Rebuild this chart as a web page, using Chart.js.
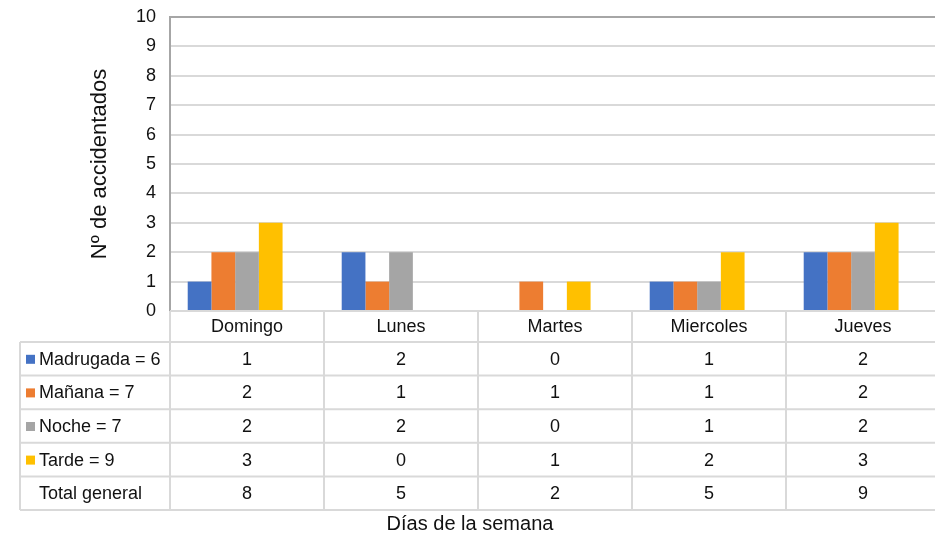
<!DOCTYPE html>
<html>
<head>
<meta charset="utf-8">
<script src="https://cdn.jsdelivr.net/npm/chart.js@4/dist/chart.umd.min.js"></script>
<style>
  html, body { margin: 0; padding: 0; background: #fff; overflow: hidden; }
  canvas { display: block; }
</style>
</head>
<body>
<canvas id="accidentes" width="940" height="533"></canvas>
<script>
// accident counts per day and time slot
var dias = ['Domingo', 'Lunes', 'Martes', 'Miercoles', 'Jueves'];
var madrugada = [1, 2, 0, 1, 2];
var manana = [2, 1, 1, 1, 2];
var noche = [2, 2, 0, 1, 2];
var tarde = [3, 0, 1, 2, 3];
var yTicks = [0, 1, 2, 3, 4, 5, 6, 7, 8, 9, 10];

var series = [
    { name: 'Madrugada', data: madrugada, color: '#4472C4' },
    { name: 'Mañana', data: manana, color: '#ED7D31' },
    { name: 'Noche', data: noche, color: '#A5A5A5' },
    { name: 'Tarde', data: tarde, color: '#FFC000' }
];

var FONT = "'Liberation Sans', Arial, sans-serif";
var GRID = '#d9d9d9';

function sum(arr) {
    return arr.reduce(function (a, b) { return a + b; }, 0);
}

var totals = dias.map(function (d, i) {
    return sum(series.map(function (s) { return s.data[i]; }));
});

var datasets = series.map(function (s) {
    return {
        label: s.name + ' = ' + sum(s.data),
        data: s.data,
        backgroundColor: s.color,
        borderWidth: 0
    };
});
// empty slot kept for the total series, which is only shown in the table
datasets.push({ label: 'Total general', data: dias.map(function () { return null; }), backgroundColor: 'rgba(0,0,0,0)' });

// data table drawn under the plot, aligned with the category columns
var tablePlugin = {
    id: 'dataTable',
    afterDraw: function (chart) {
        var ctx = chart.ctx;
        var xs = chart.scales.x;
        var area = chart.chartArea;
        var colW = (area.right - area.left) / dias.length;
        var top = area.bottom;
        var headerH = 31;
        var rowH = 33.6;
        var leftX = 20;
        var rows = datasets.length;
        var bottom = top + headerH + rows * rowH;

        ctx.save();
        ctx.strokeStyle = GRID;
        ctx.lineWidth = 2;
        ctx.beginPath();
        ctx.moveTo(area.left, top);
        ctx.lineTo(chart.width, top);
        for (var r = 0; r <= rows; r++) {
            var yy = top + headerH + r * rowH;
            ctx.moveTo(leftX, yy);
            ctx.lineTo(chart.width, yy);
        }
        for (var c = 0; c <= dias.length; c++) {
            var xx = area.left + c * colW;
            ctx.moveTo(xx, top);
            ctx.lineTo(xx, bottom);
        }
        ctx.moveTo(leftX, top + headerH);
        ctx.lineTo(leftX, bottom);
        ctx.stroke();

        ctx.fillStyle = '#111';
        ctx.font = '18px ' + FONT;
        ctx.textBaseline = 'middle';
        ctx.textAlign = 'center';
        dias.forEach(function (d, i) {
            ctx.fillText(d, xs.getPixelForValue(i), top + headerH / 2 + 1);
        });

        datasets.forEach(function (ds, r) {
            var cy = top + headerH + r * rowH + rowH / 2 + 1;
            var vals = r < series.length ? series[r].data : totals;
            if (r < series.length) {
                ctx.fillStyle = series[r].color;
                ctx.fillRect(26, cy - 5, 9, 9);
            }
            ctx.fillStyle = '#111';
            ctx.textAlign = 'left';
            ctx.fillText(ds.label, 39, cy);
            ctx.textAlign = 'center';
            vals.forEach(function (v, i) {
                ctx.fillText(String(v), xs.getPixelForValue(i), cy);
            });
        });

        ctx.font = '20px ' + FONT;
        ctx.fillText('Días de la semana', 470, bottom + 14);
        ctx.restore();
    }
};

new Chart(document.getElementById('accidentes').getContext('2d'), {
    type: 'bar',
    data: { labels: dias, datasets: datasets },
    options: {
        responsive: false,
        animation: false,
        categoryPercentage: 0.77,
        barPercentage: 1,
        layout: { padding: { left: 80, top: 17, right: 0, bottom: 222 } },
        plugins: {
            legend: { display: false },
            tooltip: { enabled: false }
        },
        scales: {
            x: { display: false },
            y: {
                min: 0,
                max: 10,
                afterBuildTicks: function (scale) {
                    scale.ticks = yTicks.map(function (v) { return { value: v }; });
                },
                afterFit: function (scale) {
                    scale.width = 90;
                    scale.paddingTop = 0;
                    scale.paddingBottom = 0;
                },
                ticks: {
                    padding: 14,
                    color: '#111',
                    font: { family: FONT, size: 18 }
                },
                grid: {
                    drawTicks: false,
                    lineWidth: 2,
                    color: function (c) { return c.tick && c.tick.value === 10 ? '#a6a6a6' : GRID; }
                },
                border: { display: true, color: '#a6a6a6', width: 2 },
                title: {
                    display: true,
                    text: 'Nº de accidentados',
                    color: '#111',
                    font: { family: FONT, size: 22 },
                    padding: { top: 7, bottom: 0 }
                }
            }
        }
    },
    plugins: [tablePlugin]
});
</script>
</body>
</html>
